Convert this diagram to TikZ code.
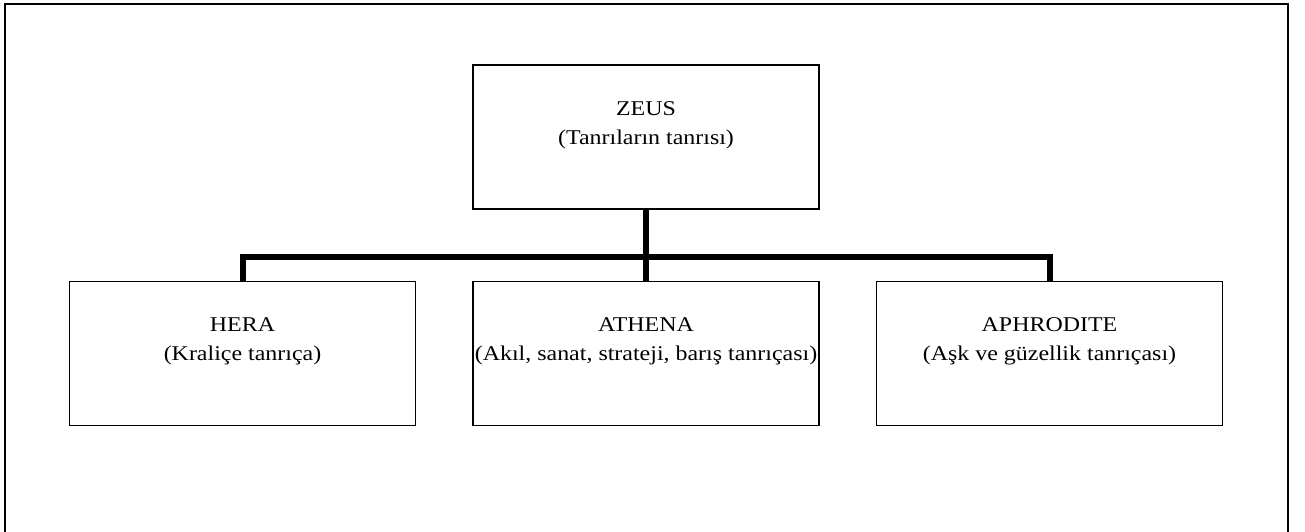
\documentclass[tikz,border=0pt]{standalone}
\usepackage{fontspec}
\setmainfont{Liberation Serif}
\begin{document}
\begin{tikzpicture}[x=1pt,y=-1pt,
  godbox/.style={draw=black,line width=1.3pt,rectangle,inner sep=0pt,
    minimum width=346pt,minimum height=144pt},
  godtext/.style={anchor=base,inner sep=0pt,xscale=1.14,transform shape,
    font=\fontsize{21}{25}\selectfont},
  branch/.style={draw=black,line width=6pt,line join=miter}]
  \useasboundingbox (0,0) rectangle (1305,531);
  \clip (0,0) rectangle (1305,531);
  % outer frame, open at the bottom edge
  \draw[line width=2.5pt] (5,4) rectangle (1288,560);

  % boxes
  \node[godbox] (zeus)  at (646,137)   {};
  \node[godbox] (hera)  at (242.5,353.5) {};
  \node[godbox] (athena) at (646,353.5) {};
  \node[godbox] (aphro) at (1049.5,353.5) {};

  % labels: name on the first line, epithet on the second
  \node[godtext] (zeusname) at ([yshift=-51pt]zeus.north) {ZEUS};
  \node[godtext] (zeusdesc) at ([yshift=-80pt]zeus.north) {(Tanrıların tanrısı)};
  \node[godtext] (heraname) at ([yshift=-51pt]hera.north) {HERA};
  \node[godtext] (heradesc) at ([yshift=-80pt]hera.north) {(Kraliçe tanrıça)};
  \node[godtext] (athenaname) at ([yshift=-51pt]athena.north) {ATHENA};
  \node[godtext] (athenadesc) at ([yshift=-80pt]athena.north) {(Akıl, sanat, strateji, barış tanrıçası)};
  \node[godtext] (aphroname) at ([yshift=-51pt]aphro.north) {APHRODITE};
  \node[godtext] (aphrodesc) at ([yshift=-80pt]aphro.north) {(Aşk ve güzellik tanrıçası)};

  % tree connectors
  \coordinate (bar) at (646,257);
  \draw[branch] (zeus.south) -- (athena.north);
  \draw[branch] (hera.north) |- (bar) -| (aphro.north);
\end{tikzpicture}
\end{document}
